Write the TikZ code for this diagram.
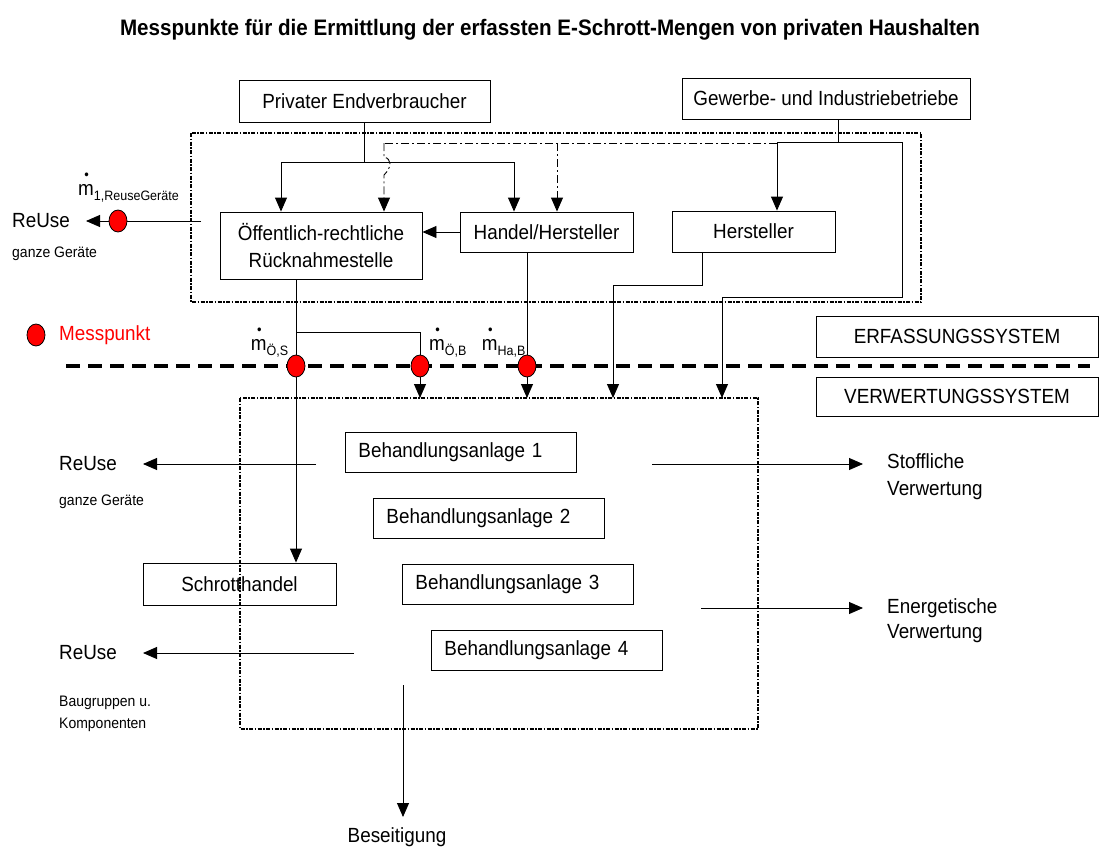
\documentclass[tikz,border=0pt]{standalone}
\usepackage{fontspec}
\setmainfont{Liberation Sans}[FakeStretch=0.92]
\usetikzlibrary{arrows.meta,shapes.geometric}
\newcommand\mdotlabel[1]{\makebox[0pt][l]{\makebox[0.833em]{\raisebox{16pt}{\fontsize{14}{14}\selectfont\textbullet}}}m\raisebox{-0.25em}{\fontsize{13.6}{15}\selectfont #1}}
\begin{document}
\begin{tikzpicture}[x=1pt,y=-1pt,font=\fontsize{20.5}{24}\selectfont,
  box/.style={draw,line width=0.9pt,inner sep=0pt,align=center},
  bbox/.style={draw,line width=0.9pt,inner xsep=13pt,inner ysep=0pt,text width=205pt,align=left,minimum height=40pt,anchor=west},
  arr/.style={-{Triangle[length=14pt,width=12pt]},line width=0.9pt},
  ln/.style={line width=0.9pt},
  ddot/.style={dash pattern=on 8pt off 3pt on 2pt off 3pt,line width=0.9pt},
  ddarr/.style={ddot,-{Triangle[length=14pt,width=12pt]}},
  frame/.style={line width=1.3pt,dash pattern=on 4pt off 1.5pt on 1.5pt off 1.5pt},
  mp/.style={ellipse,draw,fill=red,line width=0.8pt,minimum width=18pt,minimum height=22pt,inner sep=0pt},
  lab/.style={anchor=west,inner sep=0pt},
  small/.style={font=\fontsize{15.2}{22}\selectfont}]
\useasboundingbox (0,0) rectangle (1113,848);

% title
\node[font=\bfseries\fontsize{22.4}{26}\selectfont] (title) at (550,30) {Messpunkte für die Ermittlung der erfassten E-Schrott-Mengen von privaten Haushalten};

% frames
\draw[frame] (191,133) rectangle (921,302);
\draw[frame] (240,398) rectangle (758,729);

% separator
\draw[line width=4pt,dash pattern=on 14pt off 8pt] (66,366) -- (1090,366);

% boxes
\node[box,minimum width=251pt,minimum height=42pt] (priv) at (364.5,101) {Privater Endverbraucher};
\node[box,minimum width=288pt,minimum height=41pt] (gew) at (826,98.5) {Gewerbe- und Industriebetriebe};
\node[box,minimum width=202pt,minimum height=67pt,font=\fontsize{20.5}{27.6}\selectfont] (oef) at (321,245.5) {Öffentlich-rechtliche\\Rücknahmestelle};
\node[box,minimum width=173pt,minimum height=40pt] (han) at (546.5,232) {Handel/Hersteller};
\node[box,minimum width=163pt,minimum height=41pt] (her) at (753.5,231.5) {Hersteller};
\node[box,minimum width=282pt,minimum height=41pt] (erf) at (957,336.5) {ERFASSUNGSSYSTEM};
\node[box,minimum width=282pt,minimum height=39pt] (ver) at (957,396.5) {VERWERTUNGSSYSTEM};
\node[box,minimum width=193pt,minimum height=42pt] (sch) at (239.5,584) {Schrotthandel};
\node[bbox] (b1) at (345,452) {Behandlungsanlage 1};
\node[bbox] (b2) at (373,518.5) {Behandlungsanlage 2};
\node[bbox] (b3) at (402,584.5) {Behandlungsanlage 3};
\node[bbox] (b4) at (431,650.5) {Behandlungsanlage 4};

% free ends
\coordinate (pj) at (364.5,162);
\coordinate (gj) at (838,142);
\coordinate (gl) at (777,142);
\coordinate (gr) at (902,142);
\coordinate (dl) at (384,143);
\coordinate (dm) at (557,143);
\coordinate (t1) at (420,398);
\coordinate (t2) at (527,398);
\coordinate (t3) at (613,398);
\coordinate (t4) at (722,398);
\coordinate (oj) at (296,332);
\coordinate (r1s) at (201,221);
\coordinate (r1e) at (86,221);
\coordinate (r2s) at (316,464);
\coordinate (r2e) at (143,464);
\coordinate (r3s) at (354,653);
\coordinate (r3e) at (143,653);
\coordinate (s1s) at (652,464);
\coordinate (s1e) at (863,464);
\coordinate (s2s) at (701,608);
\coordinate (s2e) at (863,608);
\coordinate (bs) at (403,685);
\coordinate (be) at (403,817);

% connectors upper part
\draw[ln] (priv.south) -- (pj);
\draw[arr] (pj) -| ([xshift=-40pt]oef.north);
\draw[arr] (pj) -| ([xshift=-32.5pt]han.north);
\draw[ln] ([xshift=12pt]gew.south) -- (gj);
\draw[ln] (gl) -- (gr);
\draw[arr] (gl) -- ([xshift=23.5pt]her.north);
\draw[arr] (gr) -- (902,297) -| (t4);
\draw[ddot] (gl |- dl) -- (dl);
\draw[ddarr] (dl) -- (384,157) .. controls (392,159) and (392,167) .. (384,175) -- ([xshift=63pt]oef.north);
\draw[ddarr] (dm) -- ([xshift=10.5pt]han.north);
\draw[arr] (han.west) -- (han.west -| oef.east);
\draw[arr] (r1s) -- (r1e);

% connectors lower part
\draw[arr] ([xshift=-25pt]oef.south) -- ([xshift=56.5pt]sch.north);
\draw[arr] (oj) -| (t1);
\draw[arr] ([xshift=-19.5pt]han.south) -- (t2);
\draw[arr] ([xshift=-51.5pt]her.south) -- (702,285) -| (t3);
\draw[arr] (r2s) -- (r2e);
\draw[arr] (r3s) -- (r3e);
\draw[arr] (s1s) -- (s1e);
\draw[arr] (s2s) -- (s2e);
\draw[arr] (bs) -- (be);

% measuring points
\node[mp] (p0) at (118,221) {};
\node[mp] (p1) at (296,366) {};
\node[mp] (p2) at (420,366) {};
\node[mp] (p3) at (527,366) {};
\node[mp] (leg) at (36,335) {};

% labels
\node[lab,text=red] (legt) at (59,335) {Messpunkt};
\node[inner sep=0pt,anchor=base west] (mA) at (78,195) {\mdotlabel{1,ReuseGeräte}};
\node[inner sep=0pt,anchor=base west] (mB) at (250.7,350.7) {\mdotlabel{Ö,S}};
\node[inner sep=0pt,anchor=base west] (mC) at (429,350.7) {\mdotlabel{Ö,B}};
\node[inner sep=0pt,anchor=base west] (mD) at (481.7,350.7) {\mdotlabel{Ha,B}};
\node[lab] (ru1) at (12,221) {ReUse};
\node[lab,small] (gg1) at (12,254) {ganze Geräte};
\node[lab] (ru2) at (59,464) {ReUse};
\node[lab,small] (gg2) at (59,502) {ganze Geräte};
\node[lab] (ru3) at (59,653) {ReUse};
\node[lab,small,align=left] (bk) at (59,713.5) {Baugruppen u.\\Komponenten};
\node[lab,align=left,font=\fontsize{20.5}{26.5}\selectfont] (sv) at (887,476.5) {Stoffliche\\Verwertung};
\node[lab,align=left,font=\fontsize{20.5}{25}\selectfont] (ev) at (887,620.5) {Energetische\\Verwertung};
\node[inner sep=0pt] (bes) at (397,837) {Beseitigung};
\end{tikzpicture}
\end{document}
